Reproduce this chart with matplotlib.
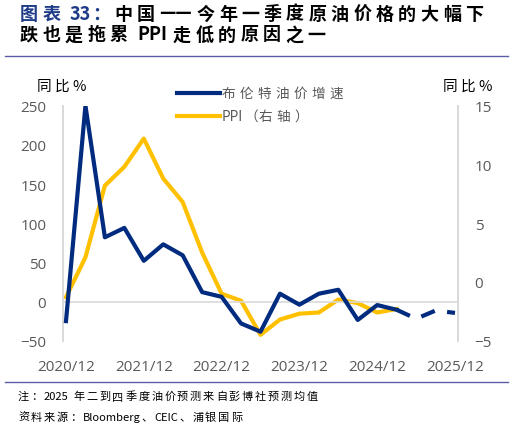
import matplotlib
matplotlib.use("Agg")
import matplotlib.pyplot as plt
from matplotlib.lines import Line2D

plt.rcParams['font.family'] = ['Noto Sans CJK SC', 'DejaVu Sans']

# 季度数据：2020/12 - 2025/12
quarters = ['2020/12', '2021/03', '2021/06', '2021/09', '2021/12', '2022/03', '2022/06',
            '2022/09', '2022/12', '2023/03', '2023/06', '2023/09', '2023/12', '2024/03',
            '2024/06', '2024/09', '2024/12', '2025/03', '2025/06', '2025/09', '2025/12']
brent_actual = [-25, 250, 82, 94, 52, 73, 59, 12, 6, -28, -38.5, 10, -4, 10, 15, -23.5, -4.5, -10.5]
brent_forecast = [-10.5, -22, -11.5, -14.5]   # 2025/03 起，预测
ppi = [-1.3, 2.1, 8.2, 9.8, 12.2, 8.8, 6.8, 2.5, -1.0, -1.6, -4.5, -3.2, -2.7, -2.6, -1.5, -1.8, -2.6, -2.3]
xtick_labels = ['2020/12', '2021/12', '2022/12', '2023/12', '2024/12', '2025/12']
legend_labels = ['布伦特油价增速', 'PPI（右轴）']

navy = '#002B7F'
gold = '#FFC000'
grey_txt = '#595959'
axis_grey = '#D9D9D9'
rule_col = '#5B5EA6'
num_font = ['Open Sans', 'DejaVu Sans']

W, H = 513, 431
fig = plt.figure(figsize=(W / 100, H / 100), dpi=100)
renderer = fig.canvas.get_renderer()


def is_cjk(tok):
    return tok == '——' or ord(tok[0]) >= 0x2E80


def split_tokens(s):
    toks = []
    i = 0
    while i < len(s):
        ch = s[i]
        if s.startswith('——', i):
            toks.append('——'); i += 2
        elif ch == ' ':
            toks.append(' '); i += 1
        elif ord(ch) >= 0x2E80:
            toks.append(ch); i += 1
        else:
            j = i
            while j < len(s) and s[j] != ' ' and ord(s[j]) < 0x2E80 and s[j] != '—':
                j += 1
            toks.append(s[i:j]); i = j
    return toks


# 字距加宽的文字（像素坐标，y 为距顶部）
def tracked(x, y, s, track, space=5, **kw):
    for tok in split_tokens(s):
        if tok == ' ':
            x += space
            continue
        t = fig.text(x / W, 1 - y / H, tok, va='center', ha='left', **kw)
        w = t.get_window_extent(renderer).width
        x += w + (track if is_cjk(tok) and tok != '（' else 1)
    return x


ax = fig.add_axes([63 / W, (H - 341.7) / H, (458 - 63) / W, (341.7 - 106.7) / H])
ax2 = ax.twinx()

x_act = list(range(len(brent_actual)))
x_fc = list(range(len(brent_actual) - 1, len(quarters)))
x_ppi = list(range(len(ppi)))

ax.axhline(0, color=axis_grey, lw=1.2, zorder=0)
ax.plot(x_act, brent_actual, color=navy, lw=3, zorder=3)
ax.plot(x_fc, brent_forecast, color=navy, lw=3, dashes=(3.5, 3), dash_capstyle='butt', zorder=3)
ax2.plot(x_ppi, ppi, color=gold, lw=3, zorder=2)

ax.set_xlim(-0.154, 20.154)
ax.set_ylim(-50, 250)
ax2.set_ylim(-5, 15)
ax.set_yticks(range(-50, 251, 50))
ax2.set_yticks(range(-5, 16, 5))
ax.set_xticks(range(0, len(quarters), 4))
ax.set_xticklabels(xtick_labels)

for a in (ax, ax2):
    for s in ('top', 'bottom'):
        a.spines[s].set_visible(False)
    a.spines['left'].set_color(axis_grey)
    a.spines['right'].set_color(axis_grey)
    a.spines['left'].set_linewidth(1.2)
    a.spines['right'].set_linewidth(1.2)
    a.tick_params(length=0, labelsize=11, labelcolor=grey_txt)
    for lab in a.get_xticklabels() + a.get_yticklabels():
        lab.set_family(num_font)
ax.tick_params(axis='y', pad=12)
ax2.tick_params(axis='y', pad=12)
ax.tick_params(axis='x', pad=13)
ax.set_zorder(ax2.get_zorder() + 1)
ax.patch.set_visible(False)

# 单位
tracked(37, 87, '同比%', 3, fontsize=10.5, color='black')
tracked(443, 87, '同比%', 3, fontsize=10.5, color='black')

# 图例（手工绘制）
for row, (lab, col) in enumerate(zip(legend_labels, [navy, gold])):
    yy = 94 + row * 23
    fig.add_artist(Line2D([177 / W, 220 / W], [1 - yy / H, 1 - yy / H], color=col, lw=3))
    tracked(222, yy, lab, 4.3, fontsize=9.8, color=grey_txt)

# 标题
tx = tracked(20, 14, '图表 33：', 4.4, space=5, fontsize=13, weight='bold', color='#1F3C88')
tracked(tx, 14, '中国——今年一季度原油价格的大幅下', 4.4, fontsize=13, weight='bold', color='black')
tracked(20, 35, '跌也是拖累 PPI 走低的原因之一', 4.4, space=5, fontsize=13, weight='bold', color='black')
fig.add_artist(Line2D([5 / W, 508 / W], [1 - 57 / H, 1 - 57 / H], color=rule_col, lw=1))

# 脚注
fig.add_artist(Line2D([5 / W, 508 / W], [1 - 383 / H, 1 - 383 / H], color=rule_col, lw=1))
tracked(18, 397, '注：2025 年二到四季度油价预测来自彭博社预测均值', 1.8, space=4, fontsize=8, color='black')
tracked(18, 418, '资料来源：Bloomberg、CEIC、浦银国际', 1.8, space=4, fontsize=8, color='black')

fig.savefig('out.png', dpi=100)
